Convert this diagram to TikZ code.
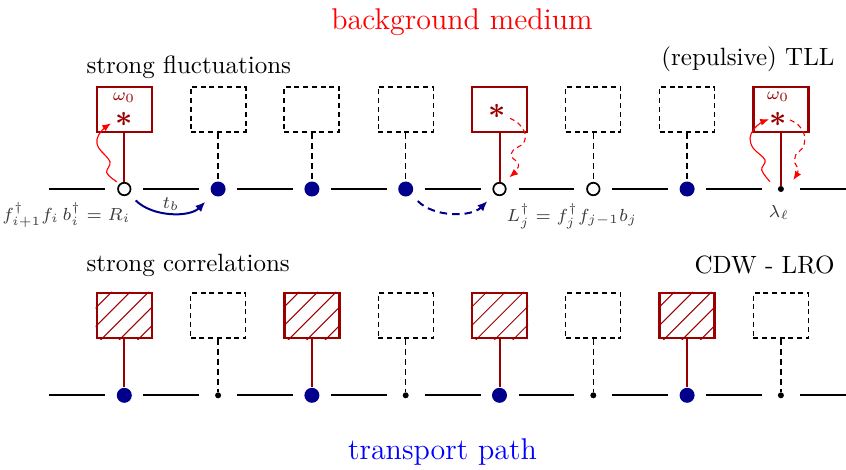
\documentclass[tikz,border=0pt]{standalone}
\usepackage{amsmath}
\usetikzlibrary{arrows.meta}
\definecolor{dred}{RGB}{155,0,0}
\definecolor{dblue}{RGB}{0,0,140}
\definecolor{lgray}{RGB}{60,60,60}
\begin{document}
\begin{tikzpicture}[x=0.4pt,y=0.4pt,
  chain/.style={line width=0.8pt, black},
  opensite/.style={circle, draw=black, fill=white, line width=0.7pt, minimum size=5pt, inner sep=0pt},
  bigsite/.style={circle, fill=dblue, minimum size=6pt, inner sep=0pt},
  smallsite/.style={circle, fill=black, minimum size=2.4pt, inner sep=0pt},
  redbox/.style={rectangle, draw=dred, line width=0.9pt, minimum width=22pt, minimum height=18pt, inner sep=0pt},
  emptybox/.style={rectangle, draw=black, dash pattern=on 2pt off 1.5pt, line width=0.55pt, minimum width=22pt, minimum height=18pt, inner sep=0pt},
  boldbox/.style={emptybox, line width=0.85pt},
  redlink/.style={draw=dred, line width=0.8pt},
  dashlink/.style={draw=black, dash pattern=on 2.5pt off 1.5pt, line width=0.6pt},
  txt/.style={inner sep=0pt},
  lbl/.style={txt, lgray, font=\fontsize{6.9}{8}\selectfont},
  wave/.style={red, line width=0.45pt, -{Latex[length=3.5pt,width=2.8pt]}},
  dwave/.style={wave, dash pattern=on 2pt off 1.5pt},
  hop/.style={dblue, line width=0.8pt, -{Latex[length=4pt,width=3.4pt]}, shorten <=3.6pt, shorten >=4pt},
  hatch/.style={dred, line width=0.4pt},
]
\useasboundingbox (0,0) rectangle (846,-469);

% titles
\node[txt, anchor=base, red] (title) at (462,-29) {\large background medium};
\node[txt, anchor=base, blue] (path) at (442.5,-459) {\large transport path};
\node[txt, anchor=base west] (sf) at (86,-73) {strong fluctuations};
\node[txt, anchor=base east] (tll) at (835,-65) {(repulsive) TLL};
\node[txt, anchor=base west] (sc) at (86,-271.5) {strong correlations};
\node[txt, anchor=base east] (cdw) at (835,-273) {CDW - LRO};

% chain segments
\foreach \y in {-189,-395.3}{
  \draw[chain] (49.3,\y) -- (105.4,\y);
  \foreach \k in {0,...,6}{
    \draw[chain] ({124.3+93.8*\k+19},\y) -- ({124.3+93.8*(\k+1)-19},\y);
  }
  \draw[chain] (799.8,\y) -- (846,\y);
}

% ---------- top row ----------
\node[opensite] (a1) at (124.3,-189) {};
\node[bigsite]  (a2) at (218.1,-189) {};
\node[bigsite]  (a3) at (311.9,-189) {};
\node[bigsite]  (a4) at (405.7,-189) {};
\node[opensite] (a5) at (499.5,-189) {};
\node[opensite] (a6) at (593.3,-189) {};
\node[bigsite]  (a7) at (687.1,-189) {};
\node[smallsite] (a8) at (780.9,-189) {};

\node[redbox]   (b1) at (124.3,-109.4) {};
\node[boldbox]  (b2) at (218.1,-109.4) {};
\node[boldbox]  (b3) at (311.9,-109.4) {};
\node[emptybox] (b4) at (405.7,-109.4) {};
\node[redbox]   (b5) at (499.5,-109.4) {};
\node[emptybox] (b6) at (593.3,-109.4) {};
\node[emptybox] (b7) at (687.1,-109.4) {};
\node[redbox]   (b8) at (780.9,-109.4) {};

\draw[redlink] (b1) -- (a1);
\draw[dashlink] (b2) -- (a2);
\draw[dashlink] (b3) -- (a3);
\draw[dashlink] (b4) -- (a4);
\draw[redlink] (b5) -- (a5);
\draw[dashlink] (b6) -- (a6);
\draw[dashlink] (b7) -- (a7);
\draw[redlink] (b8) -- (a8);

% box contents
\node[txt, dred] (w1) at (124,-97.5) {\scriptsize $\omega_0$};
\node[txt, dred] (s1) at (124,-119) {\large $\boldsymbol{\ast}$};
\node[txt, dred] (s5) at (497,-111) {\large $\boldsymbol{\ast}$};
\node[txt, dred] (w8) at (778,-96.5) {\scriptsize $\omega_0$};
\node[txt, dred] (s8) at (778,-119) {\large $\boldsymbol{\ast}$};

% wavy arrows
\draw[wave] plot[smooth, tension=0.6] coordinates {(116.7,-181.7) (106.7,-172.7) (110,-161.7) (99,-148.3) (97,-139.3) (101.7,-130.7) (111,-123.3)};
\draw[dwave] plot[smooth, tension=0.6] coordinates {(510,-118.3) (518.3,-123.3) (525,-133.3) (523.3,-143.3) (513.3,-150) (511.7,-156.7) (518.3,-163.3) (516.7,-170) (509.3,-177.3)};
\draw[wave] plot[smooth, tension=0.6] coordinates {(770,-181.7) (761.7,-170) (765,-160) (753.3,-148.3) (750,-138.3) (753.3,-130) (760,-123.3) (769,-119.3)};
\draw[dwave] plot[smooth, tension=0.6] coordinates {(790,-120) (798.3,-125) (804.3,-135) (803.3,-146.7) (795.7,-155) (795,-163.3) (798.3,-170) (793.3,-180)};

% hopping arrows
\draw[hop] (a1.-45) to[out=-45,in=-135] (a2.-135);
\node[txt, lgray] (tb) at (171,-204) {\scriptsize $t_b$};
\draw[hop, dash pattern=on 3pt off 2pt] (a4.-45) to[out=-45,in=-135] (a5.-135);

% labels
\node[lbl, anchor=base] (lr) at (66.5,-220) {$f^\dagger_{i+1} f_i\, b^\dagger_i = R_i$};
\node[lbl, anchor=base] (ll) at (572,-221) {$L^\dagger_j = f^\dagger_j f_{j-1} b_j$};
\node[lbl, anchor=base] (lam) at (779,-217) {$\lambda_\ell$};

% ---------- bottom row ----------
\node[bigsite]   (d1) at (124.3,-395.3) {};
\node[smallsite] (d2) at (218.1,-395.3) {};
\node[bigsite]   (d3) at (311.9,-395.3) {};
\node[smallsite] (d4) at (405.7,-395.3) {};
\node[bigsite]   (d5) at (499.5,-395.3) {};
\node[smallsite] (d6) at (593.3,-395.3) {};
\node[bigsite]   (d7) at (687.1,-395.3) {};
\node[smallsite] (d8) at (780.9,-395.3) {};

\node[redbox]   (c1) at (124.3,-315.5) {};
\node[emptybox] (c2) at (218.1,-315.5) {};
\node[redbox]   (c3) at (311.9,-315.5) {};
\node[emptybox] (c4) at (405.7,-315.5) {};
\node[redbox]   (c5) at (499.5,-315.5) {};
\node[emptybox] (c6) at (593.3,-315.5) {};
\node[redbox]   (c7) at (687.1,-315.5) {};
\node[emptybox] (c8) at (780.9,-315.5) {};

\foreach \b in {c1,c3,c5,c7}{
  \begin{scope}
    \clip (\b.south west) rectangle (\b.north east);
    \foreach \d in {16,34.5,53,71.5,90}
      \draw[hatch] (\b.north west) ++(\d,0) -- ++(-80,-80);
  \end{scope}
}

\draw[redlink] (c1) -- (d1);
\draw[dashlink] (c2) -- (d2);
\draw[redlink] (c3) -- (d3);
\draw[dashlink] (c4) -- (d4);
\draw[redlink] (c5) -- (d5);
\draw[dashlink] (c6) -- (d6);
\draw[redlink] (c7) -- (d7);
\draw[dashlink] (c8) -- (d8);
\end{tikzpicture}
\end{document}
